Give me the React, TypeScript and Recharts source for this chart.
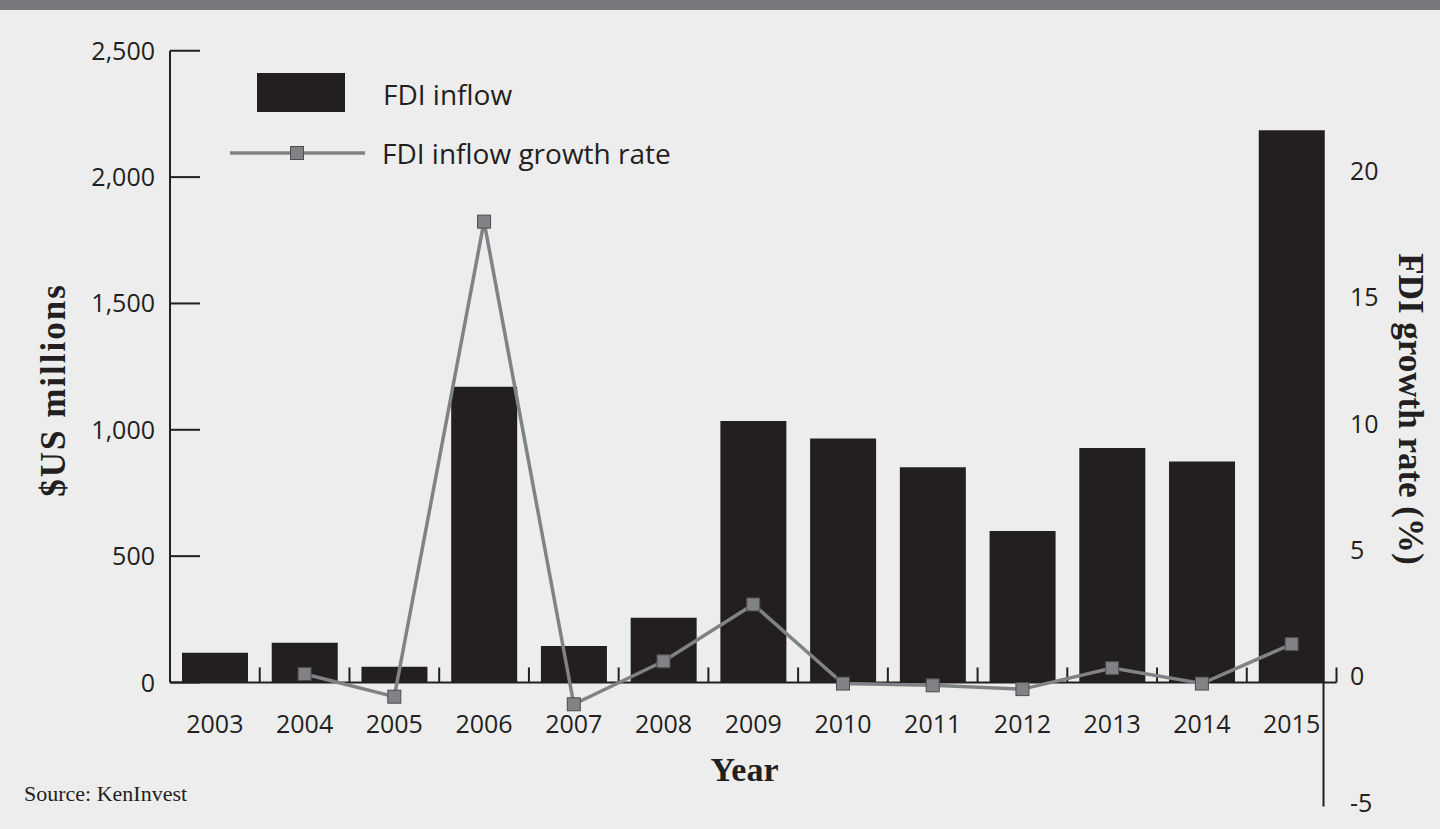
import { ComposedChart, Bar, Line, XAxis, YAxis } from "recharts";

const years = ["2003", "2004", "2005", "2006", "2007", "2008", "2009", "2010", "2011", "2012", "2013", "2014", "2015"];
// FDI inflow, $US millions
const fdiInflow = [118, 157, 62, 1170, 144, 256, 1035, 966, 852, 600, 928, 875, 2185];
// FDI inflow growth rate, %
const growthRate = [null, 0.1, -0.8, 18.0, -1.1, 0.6, 2.85, -0.28, -0.35, -0.5, 0.33, -0.28, 1.28];

const leftTicks = [0, 500, 1000, 1500, 2000, 2500];
const rightTicks = [-5, 0, 5, 10, 15, 20];

const data = years.map((year, i) => ({
  year,
  inflow: fdiInflow[i],
  growth: growthRate[i],
}));

const INK = "#231f20";
const GREY = "#808285";
const SANS = "'Open Sans', sans-serif";
const SERIF = "'Liberation Serif', serif";

const W = 1440;
const H = 829;
const PLOT_LEFT = 170;
const PLOT_RIGHT = 103.5;
const TOP_Y = 50.75;
const BASE_Y = 682.5;
const X_TICK_MARGIN = 50;
const Y_TICK_MARGIN = 15;

function LeftTick({ x, y, payload }: any) {
  const ax = x + Y_TICK_MARGIN;
  return (
    <g>
      <line x1={ax} x2={ax + 30} y1={y} y2={y} stroke={INK} strokeWidth={2} />
      <text x={x} y={y + 9} textAnchor="end" fontSize={25} fontFamily={SANS} fill={INK}>
        {Number(payload.value).toLocaleString("en-US")}
      </text>
    </g>
  );
}

function YearTick({ x, y, payload }: any) {
  const axisY = y - X_TICK_MARGIN;
  const half = payload.offset ?? 44.87;
  return (
    <g>
      <line x1={x + half} x2={x + half} y1={axisY} y2={axisY - 15} stroke={INK} strokeWidth={2} />
      <text x={x} y={y} textAnchor="middle" fontSize={25} fontFamily={SANS} fill={INK}>
        {payload.value}
      </text>
    </g>
  );
}

function SquareDot({ cx, cy, value }: any) {
  if (value == null || cx == null || cy == null) return <g />;
  return (
    <rect x={cx - 6.5} y={cy - 6.5} width={13} height={13} fill={GREY} stroke="#4d4d4f" strokeWidth={1} />
  );
}

export default function App() {
  const xAxisHeight = 60;
  return (
    <div
      style={{
        position: "fixed",
        left: 0,
        top: 0,
        width: W,
        height: H,
        background: "#ededed",
        overflow: "hidden",
      }}
    >
      <div style={{ position: "absolute", left: 0, top: 0, width: W, height: 10, background: "#77787b" }} />

      {/* bars + left axis + year axis */}
      <div style={{ position: "absolute", left: 0, top: 0 }}>
        <ComposedChart
          width={W}
          height={H}
          data={data}
          margin={{ top: TOP_Y, right: PLOT_RIGHT, bottom: H - BASE_Y - xAxisHeight, left: 0 }}
        >
          <XAxis
            dataKey="year"
            scale="band"
            height={xAxisHeight}
            interval={0}
            tickLine={false}
            tickSize={0}
            tickMargin={X_TICK_MARGIN}
            axisLine={{ stroke: INK, strokeWidth: 2 }}
            tick={YearTick}
          />
          <YAxis
            width={PLOT_LEFT}
            domain={[0, 2500]}
            ticks={leftTicks}
            interval={0}
            tickLine={false}
            tickSize={0}
            tickMargin={Y_TICK_MARGIN}
            axisLine={{ stroke: INK, strokeWidth: 2 }}
            tick={LeftTick}
          />
          <Bar dataKey="inflow" fill={INK} barSize={66} isAnimationActive={false} />
        </ComposedChart>
      </div>

      {/* growth-rate line + right axis */}
      <div style={{ position: "absolute", left: 0, top: 0 }}>
        <ComposedChart
          width={W}
          height={H}
          data={data}
          margin={{ top: 171.1, right: 0, bottom: H - 806.6, left: PLOT_LEFT }}
        >
          <XAxis dataKey="year" scale="band" hide />
          <YAxis
            orientation="right"
            width={PLOT_RIGHT}
            domain={[-5.15, 20]}
            ticks={rightTicks}
            interval={0}
            tickLine={false}
            tickSize={0}
            tickMargin={13.5}
            axisLine={{
              stroke: INK,
              strokeWidth: 2,
              strokeDasharray: "0 511.4 200",
              transform: "translate(-13 0)",
            }}
            tick={{ fontSize: 25, fontFamily: SANS, fill: INK }}
          />
          <Line
            dataKey="growth"
            stroke={GREY}
            strokeWidth={3.5}
            dot={SquareDot}
            activeDot={false}
            isAnimationActive={false}
          />
        </ComposedChart>
      </div>

      {/* legend, titles, source */}
      <svg
        width={W}
        height={H}
        style={{ position: "absolute", left: 0, top: 0, pointerEvents: "none" }}
      >
        <rect x={257} y={73} width={88} height={39} fill={INK} />
        <text x={383} y={105} fontSize={28} fontFamily={SANS} fill={INK}>
          FDI inflow
        </text>
        <line x1={230} x2={365} y1={153} y2={153} stroke={GREY} strokeWidth={3.5} />
        <rect x={290.5} y={146.5} width={13} height={13} fill={GREY} stroke="#4d4d4f" strokeWidth={1} />
        <text x={382} y={164} fontSize={28} fontFamily={SANS} fill={INK}>
          FDI inflow growth rate
        </text>

        <text
          transform="translate(65 390) rotate(-90)"
          textAnchor="middle"
          fontSize={35}
          fontWeight="bold"
          letterSpacing={2}
          fontFamily={SERIF}
          fill={INK}
        >
          $US millions
        </text>
        <text
          transform="translate(1399 409) rotate(90)"
          textAnchor="middle"
          fontSize={35}
          fontWeight="bold"
          fontFamily={SERIF}
          fill={INK}
        >
          FDI growth rate (%)
        </text>
        <text x={744.5} y={780.7} textAnchor="middle" fontSize={34} fontWeight="bold" fontFamily={SERIF} fill={INK}>
          Year
        </text>
        <text x={24} y={801} fontSize={22} fontFamily={SERIF} fill={INK}>
          Source: KenInvest
        </text>
      </svg>
    </div>
  );
}
